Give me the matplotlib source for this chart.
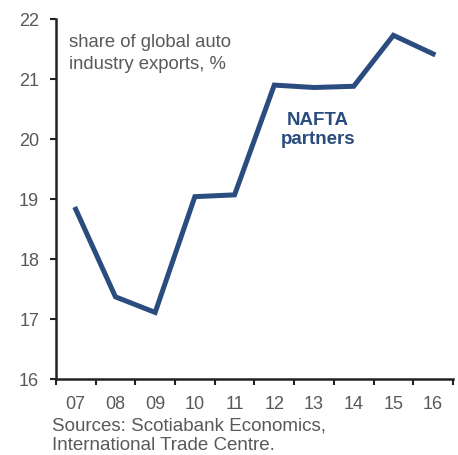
import matplotlib
matplotlib.use("Agg")
import matplotlib.pyplot as plt

years = ["07", "08", "09", "10", "11", "12", "13", "14", "15", "16"]
share = [18.83, 17.37, 17.11, 19.04, 19.07, 20.90, 20.86, 20.88, 21.73, 21.42]
y_ticks = [16, 17, 18, 19, 20, 21, 22]

line_color = "#2B4C7E"
text_color = "#595959"

plt.rcParams["font.family"] = ["Liberation Sans", "DejaVu Sans"]

fig = plt.figure(figsize=(4.58, 4.55), dpi=100)
ax = fig.add_axes([0.122, 0.167, 0.867, 0.791])

x = [i + 0.5 for i in range(len(years))]
ax.plot(x, share, color=line_color, linewidth=3.6, solid_joinstyle="miter")

ax.set_xlim(0, len(years))
ax.set_ylim(16, 22)
ax.set_yticks(y_ticks)
ax.set_xticks(range(len(years) + 1))
ax.set_xticklabels([])
ax.set_xticks(x, minor=True)
ax.set_xticklabels(years, minor=True)
ax.tick_params(axis="x", which="minor", length=0, pad=12, labelsize=13, labelcolor=text_color)
ax.tick_params(axis="x", which="major", length=4, width=1.5, direction="out", color="#222222")
ax.tick_params(axis="y", length=4, width=1.5, direction="out", color="#222222",
               labelsize=13, labelcolor=text_color, pad=8)

for s in ["top", "right"]:
    ax.spines[s].set_visible(False)
for s in ["left", "bottom"]:
    ax.spines[s].set_linewidth(1.8)
    ax.spines[s].set_color("#222222")

ax.text(0.033, 0.96, "share of global auto\nindustry exports, %", transform=ax.transAxes,
        ha="left", va="top", fontsize=13.3, color=text_color, linespacing=1.4)
ax.text(6.6, 20.15, "NAFTA\npartners", ha="center", va="center", fontsize=13.5,
        fontweight="bold", color=line_color, linespacing=1.2)

fig.text(0.113, 0.003, "Sources: Scotiabank Economics,\nInternational Trade Centre.",
         ha="left", va="bottom", fontsize=13.5, color=text_color, linespacing=1.2)

fig.savefig("out.png", dpi=100)
